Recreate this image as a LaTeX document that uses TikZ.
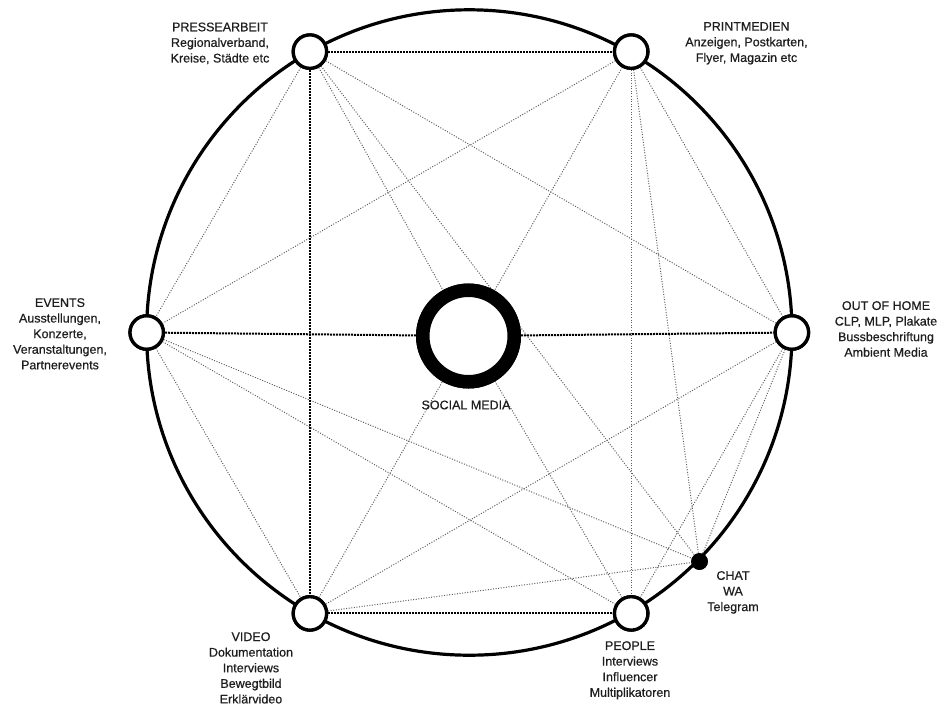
\documentclass[tikz,border=0pt]{standalone}
\usepackage{fontspec}
\setmainfont{Liberation Sans}
\newfontfamily\lblfont{Liberation Sans}[FakeBold=0.6]
\definecolor{txt}{HTML}{1E1E1E}
\definecolor{thin}{HTML}{5E5E5E}
\begin{document}
\begin{tikzpicture}[x=1pt,y=-1pt,
  hub/.style={circle,draw=black,line width=3.3pt,fill=white,minimum size=33.4pt,inner sep=0pt},
  socialhub/.style={circle,draw=black,line width=13.5pt,fill=white,minimum size=91.5pt,inner sep=0pt},
  chathub/.style={circle,fill=black,minimum size=16.7pt,inner sep=0pt},
  bigring/.style={circle,draw=black,line width=3.2pt,minimum size=645.4pt,inner sep=0pt},
  lbl/.style={align=center,text=txt,font=\lblfont\fontsize{12.5}{15.6}\selectfont,inner sep=0pt},
  thinlink/.style={draw=thin,line width=1pt,dash pattern=on 1pt off 1.6pt},
  boldlink/.style={draw=black,line width=2pt,dash pattern=on 2pt off 1pt}]
\useasboundingbox (0,0) rectangle (942,705);
\node[bigring] (ring) at (469.3,332.5) {};
% hubs (coordinates)
\node[hub] (P) at (309.9,51.6) {};
\node[hub] (R) at (631.2,51.6) {};
\node[hub] (E) at (146.7,332.5) {};
\node[hub] (O) at (791.9,332.5) {};
\node[hub] (V) at (309.9,613.4) {};
\node[hub] (L) at (631.2,613.4) {};
\node[chathub] (C) at (699.5,561.5) {};
\node[socialhub] (S) at (468.5,336) {};
% thin links
\foreach \a/\b in {P/E,P/S,P/C,P/O,R/E,R/S,R/L,R/C,R/O,E/C,E/L,E/V,O/V,O/L,O/C,V/S,V/C,S/L}
  \draw[thinlink] (\a) -- (\b);
% bold links
\foreach \a/\b in {P/R,P/V,E/S,S/O,V/L}
  \draw[boldlink] (\a) -- (\b);
% redraw nodes on top
\node[hub] at (P) {};
\node[hub] at (R) {};
\node[hub] at (E) {};
\node[hub] at (O) {};
\node[hub] at (V) {};
\node[hub] at (L) {};
\node[chathub] at (C) {};
\node[socialhub] at (S) {};
% labels
\node[lbl] (tP) at (220,43.3) {PRESSEARBEIT\\Regionalverband,\\Kreise, Städte etc};
\node[lbl] (tR) at (746.5,43.3) {PRINTMEDIEN\\Anzeigen, Postkarten,\\Flyer, Magazin etc};
\node[lbl] (tE) at (60,333.8) {EVENTS\\Ausstellungen,\\Konzerte,\\Veranstaltungen,\\Partnerevents};
\node[lbl] (tO) at (886,329) {OUT OF HOME\\CLP, MLP, Plakate\\Bussbeschriftung\\Ambient Media};
\node[lbl] (tS) at (466,405) {SOCIAL MEDIA};
\node[lbl] (tV) at (251,667.9) {VIDEO\\Dokumentation\\Interviews\\Bewegtbild\\Erklärvideo};
\node[lbl] (tL) at (630,670.3) {PEOPLE\\Interviews\\Influencer\\Multiplikatoren};
\node[lbl] (tC) at (733,592.4) {CHAT\\WA\\Telegram};
\end{tikzpicture}
\end{document}
